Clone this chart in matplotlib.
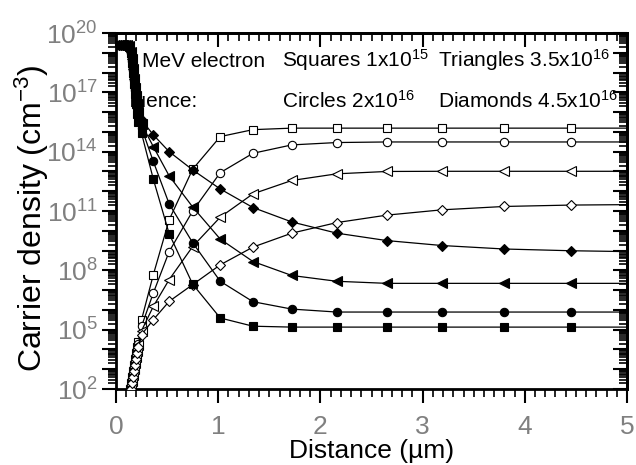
import math
import matplotlib
matplotlib.use('Agg')
import matplotlib.pyplot as plt
from matplotlib.ticker import FixedLocator, FuncFormatter, LogLocator, MultipleLocator, NullFormatter
from matplotlib.patches import Rectangle

plt.rcParams['font.family'] = 'Liberation Sans'
plt.rcParams['mathtext.fontset'] = 'custom'
plt.rcParams['mathtext.rm'] = 'Liberation Sans'
plt.rcParams['mathtext.it'] = 'Liberation Sans:italic'
plt.rcParams['mathtext.bf'] = 'Liberation Sans:bold'
plt.rcParams['mathtext.default'] = 'regular'

# distance grids (um)
x_surf_filled = [0.03, 0.05, 0.07, 0.09, 0.11, 0.13, 0.15, 0.16, 0.17, 0.18, 0.19, 0.20, 0.21, 0.22]
x_surf_open = [0.13, 0.14, 0.15, 0.16, 0.17, 0.18, 0.19, 0.20, 0.21, 0.22]
x_bulk = [0.25, 0.365, 0.52, 0.75, 1.02, 1.34, 1.72, 2.16, 2.65, 3.19, 3.80, 4.45, 5.0]

# filled symbols (cm^-3)
sq_filled = [2.5e19, 2.5e19, 2.5e19, 2.5e19, 2.5e19, 2.0e19, 1.0e19, 3.2e18, 1.0e18, 2.5e17, 7.9e16, 2.5e16, 7.9e15, 3.2e15,
             8.5e14, 4.1e12, 7.1e9, 2.0e7, 3.9e5, 1.5e5, 1.35e5, 1.35e5, 1.35e5, 1.35e5, 1.35e5, 1.35e5, 1.35e5]
ci_filled = [2.5e19, 2.5e19, 2.5e19, 2.5e19, 2.5e19, 2.0e19, 1.0e19, 4.0e18, 1.3e18, 4.0e17, 1.3e17, 4.0e16, 1.6e16, 6.3e15,
             1.6e15, 3.2e13, 2.3e11, 2.5e9, 2.8e7, 2.6e6, 1.1e6, 7.8e5, 7.8e5, 7.8e5, 7.8e5, 7.8e5, 7.8e5]
tr_filled = [2.5e19, 2.5e19, 2.5e19, 2.5e19, 2.5e19, 2.2e19, 1.1e19, 5.0e18, 1.6e18, 5.0e17, 1.6e17, 6.3e16, 2.5e16, 1.0e16,
             2.5e15, 1.8e14, 6.0e12, 1.6e11, 3.8e9, 2.8e8, 5.5e7, 2.8e7, 2.2e7, 2.2e7, 2.2e7, 2.2e7, 2.2e7]
di_filled = [2.5e19, 2.5e19, 2.5e19, 2.5e19, 2.5e19, 2.2e19, 1.3e19, 6.3e18, 2.0e18, 6.3e17, 2.5e17, 1.0e17, 4.0e16, 1.6e16,
             4.0e15, 7.1e14, 1.0e14, 1.2e13, 1.3e12, 1.5e11, 2.8e10, 7.6e9, 3.2e9, 1.8e9, 1.2e9, 9.8e8, 8.9e8]

# open symbols (cm^-3)
sq_open = [5.0e1, 1.0e2, 2.0e2, 4.0e2, 7.9e2, 1.6e3, 3.2e3, 6.3e3, 1.3e4, 2.5e4,
           3.2e5, 6.0e7, 3.6e10, 1.3e13, 5.8e14, 1.3e15, 1.55e15, 1.55e15, 1.55e15, 1.55e15, 1.55e15, 1.55e15, 1.55e15]
ci_open = [4.0e1, 7.9e1, 1.6e2, 3.2e2, 6.3e2, 1.3e3, 2.5e3, 5.0e3, 1.0e4, 2.0e4,
           1.5e5, 7.1e6, 8.9e8, 1.0e11, 8.7e12, 8.3e13, 2.2e14, 2.9e14, 3.1e14, 3.1e14, 3.1e14, 3.1e14, 3.1e14]
tr_open = [3.2e1, 6.3e1, 1.3e2, 2.5e2, 5.0e2, 1.0e3, 2.0e3, 4.0e3, 7.9e3, 1.6e4,
           8.9e4, 1.5e6, 3.4e7, 1.6e9, 4.9e10, 7.4e11, 3.5e12, 7.6e12, 1.0e13, 1.02e13, 1.02e13, 1.02e13, 1.02e13]
di_open = [2.5e1, 5.0e1, 1.0e2, 2.0e2, 4.0e2, 7.9e2, 1.6e3, 3.2e3, 6.3e3, 1.3e4,
           5.6e4, 3.2e5, 2.7e6, 1.9e7, 1.9e8, 1.5e9, 7.6e9, 2.6e10, 6.2e10, 1.15e11, 1.7e11, 2.0e11, 2.1e11]

fig = plt.figure(figsize=(6.36, 4.65), dpi=100)
ax = fig.add_axes([0.1824, 0.1634, 0.8035, 0.7656])

xo = x_surf_open + x_bulk
xf = x_surf_filled + x_bulk
for y, m, ms in [(sq_open, 's', 5.5), (ci_open, 'o', 6), (tr_open, '<', 7), (di_open, 'D', 5.5)]:
	ax.plot(xo, y, color='black', lw=0.9, marker=m, ms=ms, mfc='white', mec='black', mew=0.8,
			markevery=slice(0, -1), zorder=3)
for y, m, ms in [(sq_filled, 's', 5.5), (ci_filled, 'o', 6), (tr_filled, '<', 7), (di_filled, 'D', 5.5)]:
	ax.plot(xf, y, color='black', lw=0.9, marker=m, ms=ms, mfc='black', mec='black', mew=0.8,
			markevery=slice(0, -1), zorder=4)

ax.set_yscale('log')
ax.set_xlim(0, 5)
ax.set_ylim(1e2, 1e20)

# annotation text sits under the data
fs = 15
ax.text(0.051, 0.904, 'MeV electron', transform=ax.transAxes, fontsize=fs, zorder=1)
t = ax.text(0.002, 0.791, 'Fluence:', transform=ax.transAxes, fontsize=fs, zorder=1)
t.set_clip_on(True)
t.set_clip_path(Rectangle((0.03, 0), 1, 1, transform=ax.transAxes))
ax.text(0.325, 0.904, 'Squares 1x10$^{15}$', transform=ax.transAxes, fontsize=fs, zorder=1)
ax.text(0.325, 0.791, 'Circles 2x10$^{16}$', transform=ax.transAxes, fontsize=fs, zorder=1)
ax.text(0.630, 0.904, 'Triangles 3.5x10$^{16}$', transform=ax.transAxes, fontsize=fs, zorder=1)
ax.text(0.630, 0.791, 'Diamonds 4.5x10$^{16}$', transform=ax.transAxes, fontsize=fs, zorder=1)


def ylab(v, pos):
	k = round(math.log10(v))
	return '$10^{%d}$' % k if k % 3 == 2 else ''


# ticks
decades = [10.0 ** k for k in range(2, 21)]
ax.yaxis.set_major_locator(FixedLocator(decades))
ax.yaxis.set_minor_locator(LogLocator(base=10, subs=range(2, 10), numticks=100))
ax.yaxis.set_major_formatter(FuncFormatter(ylab))
ax.yaxis.set_minor_formatter(NullFormatter())
ax.xaxis.set_major_locator(MultipleLocator(1))
ax.xaxis.set_minor_locator(MultipleLocator(0.1))

gray = '#808080'
ax.tick_params(which='major', direction='out', length=10, width=1.5, labelsize=19, labelcolor=gray)
ax.tick_params(axis='x', which='major', pad=9)
ax.tick_params(axis='y', which='major', pad=3)
ax.tick_params(which='minor', direction='out', length=6, width=1.2)

top = ax.secondary_xaxis('top')
top.xaxis.set_major_locator(MultipleLocator(1))
top.xaxis.set_minor_locator(MultipleLocator(0.1))
top.tick_params(which='major', direction='in', length=10, width=1.5, labeltop=False)
top.tick_params(which='minor', direction='in', length=6, width=1.2)

right = ax.secondary_yaxis('right')
right.yaxis.set_major_locator(FixedLocator(decades))
right.yaxis.set_minor_locator(LogLocator(base=10, subs=range(2, 10), numticks=100))
right.tick_params(which='major', direction='in', length=10, width=1.5, labelright=False)
right.tick_params(which='minor', direction='in', length=6, width=1.2)

for a in (ax, top, right):
	for s in a.spines.values():
		s.set_linewidth(2)

ax.set_xlabel('Distance (µm)', fontsize=19, labelpad=0)
ax.set_ylabel('Carrier density (cm$^{-3}$)', fontsize=23)
ax.yaxis.set_label_coords(-0.128, 0.48)

fig.savefig('out.png', dpi=100)
